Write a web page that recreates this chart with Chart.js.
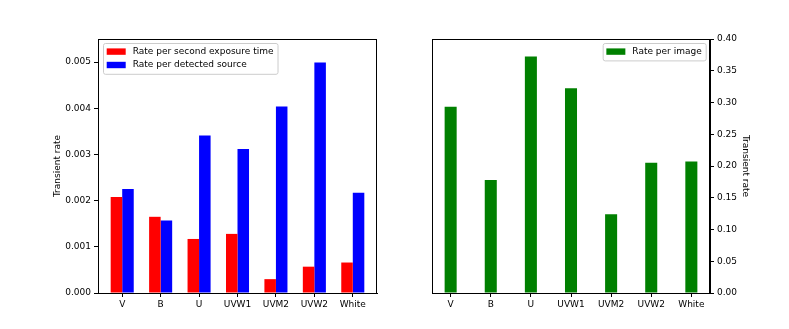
<!DOCTYPE html>
<html>
<head>
<meta charset="utf-8">
<script src="https://cdn.jsdelivr.net/npm/chart.js@4/dist/chart.umd.min.js"></script>
<style>
  body{margin:0;background:#fff;}
  #wrap{position:relative;width:789px;height:329px;}
  canvas{position:absolute;top:0;}
</style>
</head>
<body>
<div id="wrap">
  <canvas id="leftChart" width="394" height="329" style="left:0"></canvas>
  <canvas id="rightChart" width="395" height="329" style="left:394px"></canvas>
</div>
<script>
var filters=['V','B','U','UVW1','UVM2','UVW2','White'];
var ratePerSecond=[0.00208,0.00165,0.00117,0.00128,0.00030,0.00057,0.00066];
var ratePerSource=[0.00225,0.00157,0.00341,0.00312,0.00404,0.00499,0.00217];
var ratePerImage=[0.2935,0.178,0.3726,0.3225,0.124,0.2053,0.2069];
var leftTicks=[0,0.001,0.002,0.003,0.004,0.005];
var rightTicks=[0,0.05,0.10,0.15,0.20,0.25,0.30,0.35,0.40];

var FONT=9;
Chart.defaults.font.family='DejaVu Sans';
Chart.defaults.font.size=FONT;
Chart.defaults.color='#000';

function pts(arr){ return arr.map(function(v,i){ return {x:i,y:v}; }); }

// frame + in-axes legend like matplotlib
var boxLegend={
  id:'boxLegend',
  afterDraw:function(chart,args,opt){
    var ctx=chart.ctx, a=chart.chartArea;
    ctx.save();
    ctx.strokeStyle='#000';ctx.lineWidth=1;
    ctx.strokeRect(Math.round(a.left)+0.5,Math.round(a.top)+0.5,Math.round(a.right-a.left)-1,Math.round(a.bottom-a.top));
    ctx.font=FONT+'px DejaVu Sans';
    var ds=chart.data.datasets, tw=0;
    ds.forEach(function(d){ tw=Math.max(tw,ctx.measureText(d.label).width); });
    var w=3.7+19+7+tw+4, h=ds.length*13.4+4;
    var x=opt.align==='right' ? a.right-4.3-w : a.left+5;
    var y=a.top+4;
    ctx.fillStyle='rgba(255,255,255,0.8)';
    ctx.strokeStyle='#cccccc';
    ctx.beginPath();ctx.roundRect(x+0.5,y+0.5,w,h,2);ctx.fill();ctx.stroke();
    ds.forEach(function(d,i){
      var cy=y+8.6+i*13.4;
      ctx.fillStyle=d.backgroundColor;
      ctx.fillRect(x+3.7,cy-3.2,19,6.4);
      ctx.fillStyle='#000';ctx.textBaseline='middle';ctx.textAlign='left';
      ctx.fillText(d.label,x+3.7+19+7,cy);
    });
    ctx.restore();
  }
};

function xAxis(lo,hi){
  return {
    type:'linear',min:lo,max:hi,offset:false,
    afterBuildTicks:function(s){ s.ticks=filters.map(function(c,i){ return {value:i}; }); },
    afterFit:function(s){ s.height=36; },
    ticks:{autoSkip:false,maxRotation:0,padding:2,callback:function(v){ return filters[v]; }},
    grid:{display:true,offset:false,drawOnChartArea:false,drawTicks:true,tickLength:4,color:'#000'},
    border:{display:true,color:'#000'}
  };
}

new Chart('leftChart',{
  type:'bar',
  data:{datasets:[
    {label:'Rate per second exposure time',data:pts(ratePerSecond),backgroundColor:'#ff0000'},
    {label:'Rate per detected source',data:pts(ratePerSource),backgroundColor:'#0000ff'}
  ]},
  options:{
    responsive:false,animation:false,
    categoryPercentage:0.6,barPercentage:1,
    layout:{padding:{left:52,top:39,right:17,bottom:0}},
    plugins:{legend:{display:false},tooltip:{enabled:false},boxLegend:{align:'left'}},
    scales:{
      x:xAxis(-0.63,6.63),
      y:{
        min:0,max:0.0055,
        afterBuildTicks:function(s){ s.ticks=leftTicks.map(function(v){ return {value:v}; }); },
        afterFit:function(s){ s.width=46; },
        ticks:{padding:3,callback:function(v){ return v.toFixed(3); }},
        grid:{display:true,drawOnChartArea:false,drawTicks:true,tickLength:4,color:'#000'},
        border:{display:true,color:'#000'},
        title:{display:true,text:'Transient rate',padding:{top:0,bottom:0}}
      }
    }
  },
  plugins:[boxLegend]
});

new Chart('rightChart',{
  type:'bar',
  data:{datasets:[
    {label:'Rate per image',data:pts(ratePerImage),backgroundColor:'#008000'}
  ]},
  options:{
    responsive:false,animation:false,
    categoryPercentage:0.3,barPercentage:1,
    layout:{padding:{left:38,top:39,right:38,bottom:0}},
    plugins:{legend:{display:false},tooltip:{enabled:false},boxLegend:{align:'right'}},
    scales:{
      x:xAxis(-0.465,6.465),
      y:{
        position:'right',min:0,max:0.4,
        afterBuildTicks:function(s){ s.ticks=rightTicks.map(function(v){ return {value:v}; }); },
        afterFit:function(s){ s.width=41; },
        ticks:{padding:3,callback:function(v){ return v.toFixed(2); }},
        grid:{display:true,drawOnChartArea:false,drawTicks:true,tickLength:4,color:'#000'},
        border:{display:true,color:'#000'},
        title:{display:true,text:'Transient rate',padding:{top:0,bottom:0}}
      }
    }
  },
  plugins:[boxLegend]
});
</script>
</body>
</html>
